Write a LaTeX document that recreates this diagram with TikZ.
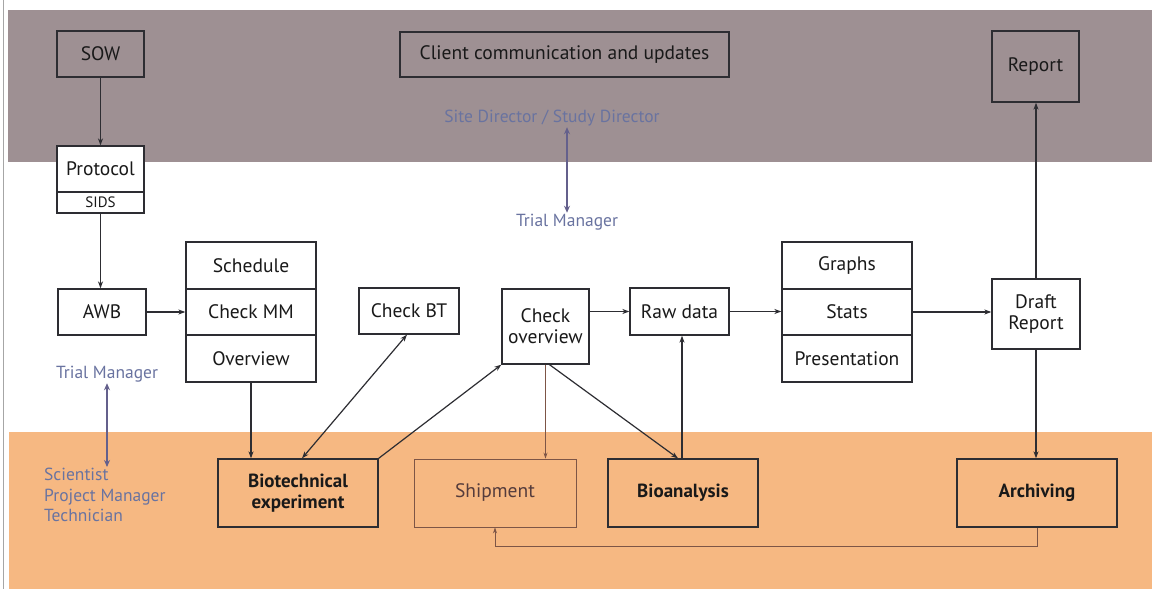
\documentclass[tikz,border=0pt]{standalone}
\usepackage{fontspec}
\setmainfont{PT Sans}
\usetikzlibrary{arrows.meta,calc}
\definecolor{bandgray}{RGB}{158,144,147}
\definecolor{bandorange}{RGB}{246,184,130}
\definecolor{boxline}{RGB}{45,45,50}
\definecolor{labelblue}{RGB}{105,115,160}
\definecolor{dblarrow}{RGB}{100,96,140}
\definecolor{brownline}{RGB}{125,85,70}
\definecolor{browntext}{RGB}{85,60,60}
\tikzset{
  box/.style={draw=boxline, line width=1.3pt, inner sep=0pt, align=center,
    font=\fontsize{19.5}{21}\selectfont, text=black!90},
  boldbox/.style={box, font=\fontsize{19}{21}\selectfont\bfseries},
  thinbox/.style={box, draw=brownline, line width=0.9pt, text=browntext},
  lbl/.style={font=\fontsize{17.5}{20}\selectfont, text=labelblue, inner sep=1pt},
  conn/.style={draw=boxline, line width=1.2pt, -{Stealth[length=7pt,width=5pt]}},
  thinconn/.style={draw=brownline, line width=0.8pt, -{Stealth[length=6pt,width=4pt]}},
  both/.style={draw=dblarrow, line width=1.6pt, {Stealth[length=7pt,width=6pt]}-{Stealth[length=7pt,width=6pt]}}
}
\begin{document}
\begin{tikzpicture}[x=1pt,y=-1pt]
\useasboundingbox (0,0) rectangle (1152,589);
\fill[white] (0,0) rectangle (1152,589);
\fill[bandgray] (8,10) rectangle (1152,162);
\fill[bandorange] (9,432) rectangle (1152,589);
\draw[gray!70, line width=0.8pt] (3,0) -- (3,589);

% top band
\node[box, minimum width=87pt, minimum height=46pt] (sow) at (100.5,54) {SOW};
\node[box, minimum width=329pt, minimum height=45pt] (client) at (564.5,54.5) {Client communication and updates};
\node[box, minimum width=87pt, minimum height=71pt] (report) at (1035.5,66.5) {Report};
\node[lbl] (sitedir) at (552,118) {Site Director / Study Director};

% middle
\node[box, fill=white, minimum width=87pt, minimum height=46pt] (protocol) at (100.5,169) {Protocol};
\node[box, font=\fontsize{15}{17}\selectfont, minimum width=87pt, minimum height=21pt] (sids) at (100.5,202.5) {SIDS};
\node[lbl] (tm) at (567,222) {Trial Manager};

\node[box, minimum width=88pt, minimum height=46pt] (awb) at (102,312) {AWB};
\node[box, minimum width=130pt, minimum height=47pt] (sched) at (251,265.5) {Schedule};
\node[box, minimum width=130pt, minimum height=46pt] (checkmm) at (251,312) {Check MM};
\node[box, minimum width=130pt, minimum height=47pt] (overview) at (251,358.5) {Overview};
\node[box, minimum width=100pt, minimum height=46pt] (checkbt) at (409,311) {Check BT};
\node[box, minimum width=87pt, minimum height=75pt] (checkov) at (545.5,326.5) {Check\\overview};
\node[box, minimum width=99pt, minimum height=47pt] (raw) at (679.5,311.5) {Raw data};
\node[box, minimum width=130pt, minimum height=47pt] (graphs) at (847,265.5) {Graphs};
\node[box, minimum width=130pt, minimum height=46pt] (stats) at (847,312) {Stats};
\node[box, minimum width=130pt, minimum height=47pt] (pres) at (847,358.5) {Presentation};
\node[box, minimum width=88pt, minimum height=70pt] (draft) at (1036,314) {Draft\\Report};
\node[lbl] (tmleft) at (107,374) {Trial Manager};

% bottom band
\node[lbl, align=left, anchor=north west, font=\fontsize{17.5}{20.5}\selectfont] (sci) at (43,467) {Scientist\\Project Manager\\Technician};
\node[boldbox, minimum width=160pt, minimum height=68pt] (biotech) at (298,493) {Biotechnical\\experiment};
\node[thinbox, minimum width=162pt, minimum height=68pt] (ship) at (495,493) {Shipment};
\node[boldbox, minimum width=150pt, minimum height=68pt] (bio) at (683,493) {Bioanalysis};
\node[boldbox, minimum width=160pt, minimum height=68pt] (arch) at (1037,493) {Archiving};

% connectors
\draw[conn] (sow) -- (protocol);
\draw[conn] (sids.south) -- (sids.south |- awb.north);
\draw[conn] (awb) -- (checkmm);
\draw[conn] (overview.south) -- (overview.south |- biotech.north);
\draw[conn, {Stealth[length=7pt,width=5pt]}-{Stealth[length=7pt,width=5pt]}] ([xshift=4pt]biotech.north) -- ([xshift=-2pt]checkbt.south);
\draw[conn] (biotech.north east) -- (checkov.south west);
\draw[conn] (checkov.east |- raw.west) -- (raw.west);
\draw[conn] (raw.east) -- (raw.east -| stats.west);
\draw[conn] (stats.east) -- (stats.east -| draft.west);
\draw[conn] (draft.north) -- (draft.north |- report.south);
\draw[conn] (draft.south) -- (draft.south |- arch.north);
\draw[thinconn] (checkov.south) -- (checkov.south |- ship.north);
\draw[conn] ([xshift=4pt]checkov.south) -- ([xshift=-5pt]bio.north);
\draw[conn] ([xshift=-1pt]bio.north) -- ([xshift=-1pt]bio.north |- raw.south);
\draw[thinconn] (arch.south) -- ++(0,19) -| (ship.south);
\draw[both] (tm.north |- sitedir.south) -- (tm.north);
\draw[both] (tmleft.south) -- (tmleft.south |- sci.north);
\end{tikzpicture}
\end{document}
